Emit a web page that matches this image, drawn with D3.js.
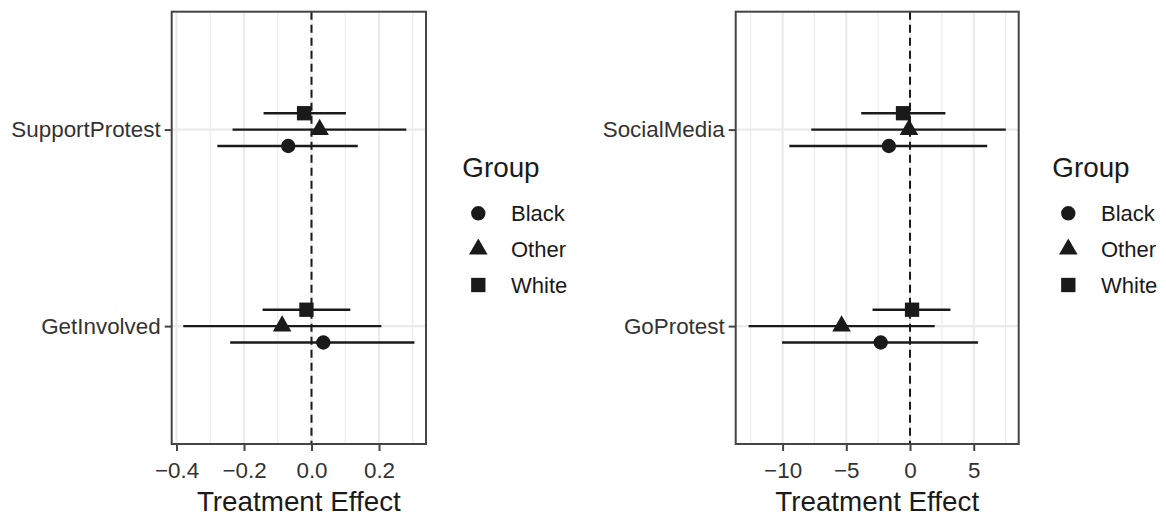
<!DOCTYPE html>
<html>
<head>
<meta charset="utf-8">
<script src="https://cdn.jsdelivr.net/npm/d3@7"></script>
<style>
  body { margin: 0; background: #fff; }
  svg { display: block; font-family: "Liberation Sans", Helvetica, Arial, sans-serif; }
</style>
</head>
<body>
<svg id="chart" width="1166" height="517"></svg>
<script>
// Data
// ----
const groups = ["Black", "Other", "White"];
const shapes = [d3.symbolCircle, d3.symbolTriangle, d3.symbolSquare];
const dodge = [-1, 0, 1];            // Black bottom, White top

const leftOutcomes = ["GetInvolved", "SupportProtest"];   // bottom -> top
const leftEst = [[0.035, -0.087, -0.015], [-0.069, 0.024, -0.022]];
const leftLo  = [[-0.241, -0.380, -0.145], [-0.279, -0.234, -0.142]];
const leftHi  = [[0.305, 0.207, 0.115], [0.137, 0.281, 0.102]];
const leftTicks = [-0.4, -0.2, 0.0, 0.2];
const leftMinor = [-0.3, -0.1, 0.1, 0.3];

const rightOutcomes = ["GoProtest", "SocialMedia"];
const rightEst = [[-2.30, -5.37, 0.16], [-1.66, -0.08, -0.55]];
const rightLo  = [[-10.04, -12.67, -2.94], [-9.47, -7.75, -3.83]];
const rightHi  = [[5.34, 1.94, 3.17], [6.06, 7.52, 2.78]];
const rightTicks = [-10, -5, 0, 5];
const rightMinor = [-12.5, -7.5, -2.5, 2.5, 7.5];

const svg = d3.select("#chart");
svg.append("rect").attr("width", 1166).attr("height", 517).attr("fill", "#fff");

const panelTop = 11.7, panelBottom = 444;

function panel(opts) {
  const { x0, x1, outcomes, est, lo, hi, ticks, minor, fmt, legendX } = opts;

  // ggplot style 5% expansion
  const all = lo.flat().concat(hi.flat());
  const mn = d3.min(all), mx = d3.max(all), pad = (mx - mn) * 0.05;
  const x = d3.scaleLinear().domain([mn - pad, mx + pad]).range([x0, x1]);
  const y = d3.scaleLinear().domain([0.4, 2.6]).range([panelBottom, panelTop]);
  const off = 0.25 / 3;

  const g = svg.append("g");

  // grid
  g.selectAll(".minor").data(minor).join("line")
    .attr("x1", d => x(d)).attr("x2", d => x(d))
    .attr("y1", panelTop).attr("y2", panelBottom)
    .attr("stroke", "#ebebeb").attr("stroke-width", 1.1);
  g.selectAll(".major").data(ticks).join("line")
    .attr("x1", d => x(d)).attr("x2", d => x(d))
    .attr("y1", panelTop).attr("y2", panelBottom)
    .attr("stroke", "#ebebeb").attr("stroke-width", 2.2);
  g.selectAll(".hgrid").data(outcomes).join("line")
    .attr("x1", x0).attr("x2", x1)
    .attr("y1", (d, i) => y(i + 1)).attr("y2", (d, i) => y(i + 1))
    .attr("stroke", "#ebebeb").attr("stroke-width", 2.2);

  // zero line
  g.append("line")
    .attr("x1", x(0)).attr("x2", x(0)).attr("y1", panelTop).attr("y2", panelBottom)
    .attr("stroke", "#1a1a1a").attr("stroke-width", 2)
    .attr("stroke-dasharray", "8,5");

  // error bars and points
  const rows = [];
  outcomes.forEach((o, i) => groups.forEach((grp, j) => rows.push({
    pos: i + 1 + dodge[j] * off, est: est[i][j], lo: lo[i][j], hi: hi[i][j], j
  })));

  g.selectAll(".bar").data(rows).join("line")
    .attr("x1", d => x(d.lo)).attr("x2", d => x(d.hi))
    .attr("y1", d => y(d.pos)).attr("y2", d => y(d.pos))
    .attr("stroke", "#1a1a1a").attr("stroke-width", 2.3);

  const sizes = [163, 150, 205];
  g.selectAll(".pt").data(rows).join("path")
    .attr("transform", d => `translate(${x(d.est)},${y(d.pos)})`)
    .attr("d", d => d3.symbol(shapes[d.j], sizes[d.j])())
    .attr("fill", "#1a1a1a");

  // border
  g.append("rect")
    .attr("x", x0).attr("y", panelTop).attr("width", x1 - x0).attr("height", panelBottom - panelTop)
    .attr("fill", "none").attr("stroke", "#444").attr("stroke-width", 2);

  // x axis
  const xa = g.append("g").attr("transform", `translate(0,${panelBottom})`)
    .call(d3.axisBottom(x).tickValues(ticks).tickSize(7).tickPadding(6).tickFormat(fmt));
  xa.select(".domain").remove();
  xa.selectAll(".tick line").attr("stroke", "#444").attr("stroke-width", 2);
  xa.selectAll(".tick text").attr("fill", "#333").style("font-size", "22.4px")
    .attr("dy", "0.95em").style("font-family", "Liberation Sans, Helvetica, Arial, sans-serif");

  // y axis
  const ya = g.append("g").attr("transform", `translate(${x0},0)`)
    .call(d3.axisLeft(y).tickValues([1, 2]).tickSize(7).tickPadding(4)
      .tickFormat(d => outcomes[d - 1]));
  ya.select(".domain").remove();
  ya.selectAll(".tick line").attr("stroke", "#444").attr("stroke-width", 2);
  ya.selectAll(".tick text").attr("fill", "#333").style("font-size", "22.4px")
    .style("font-family", "Liberation Sans, Helvetica, Arial, sans-serif");

  // axis title
  g.append("text")
    .attr("x", (x0 + x1) / 2).attr("y", 511)
    .attr("text-anchor", "middle").attr("fill", "#1a1a1a")
    .style("font-size", "27.8px").text("Treatment Effect");

  // legend
  const lg = g.append("g");
  lg.append("text").attr("x", legendX).attr("y", 177.3)
    .attr("fill", "#1a1a1a").style("font-size", "27.8px").text("Group");
  const keyY = d3.scalePoint().domain(groups).range([213.3, 285]);
  groups.forEach((grp, j) => {
    lg.append("path")
      .attr("transform", `translate(${legendX + 16},${keyY(grp)})`)
      .attr("d", d3.symbol(shapes[j], sizes[j])())
      .attr("fill", "#1a1a1a");
    lg.append("text")
      .attr("x", legendX + 48.7).attr("y", keyY(grp)).attr("dy", "0.35em")
      .attr("fill", "#1a1a1a").style("font-size", "22px").text(grp);
  });
}

const minus = s => s.replace("-", "\u2212");

panel({
  x0: 171.7, x1: 426, outcomes: leftOutcomes, est: leftEst, lo: leftLo, hi: leftHi,
  ticks: leftTicks, minor: leftMinor, fmt: d => minus(d3.format(".1f")(d)), legendX: 462.3
});

panel({
  x0: 735.7, x1: 1018.7, outcomes: rightOutcomes, est: rightEst, lo: rightLo, hi: rightHi,
  ticks: rightTicks, minor: rightMinor, fmt: d => minus(d3.format("d")(d)), legendX: 1052.3
});
</script>
</body>
</html>
